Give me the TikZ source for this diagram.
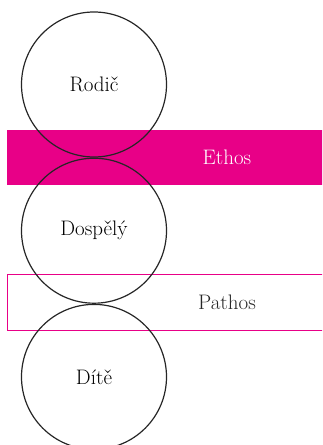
\documentclass[tikz,border=0pt]{standalone}
\usepackage{tikz}
\usetikzlibrary{positioning}
\usepackage{xcolor}
\definecolor{ruzova}{RGB}{232,0,135}
\tikzset{
    stav/.style={draw=black!85, line width=1.2pt, circle, minimum size=145pt, inner sep=0pt, font=\fontsize{21}{24}\selectfont},
    pas/.style={rectangle, minimum width=440pt, minimum height=55.5pt, inner sep=0pt, font=\fontsize{21}{24}\selectfont},
    plny/.style={pas, fill=ruzova, text=white},
    prazdny/.style={pas, draw=ruzova, line width=1pt, text=black!85}
}

\begin{document}
\begin{tikzpicture}[x=1pt, y=1pt]
    % Rozmery obrazku
    \useasboundingbox (0,0) rectangle (322,445);
    \clip (0,0) rectangle (322,445);

    % Pasy
    \node[plny] (ethos) at (227,287.5) {Ethos};
    \node[prazdny] (pathos) at (227,142.5) {Pathos};

    % Kruhy (bez vyplne)
    \node[stav] (rodic) at (94,360.5) {Rodič};
    \node[stav, below=0pt of rodic] (dospely) {Dospělý};
    \node[stav, below=0pt of dospely] (dite) {Dítě};
\end{tikzpicture}
\end{document}
